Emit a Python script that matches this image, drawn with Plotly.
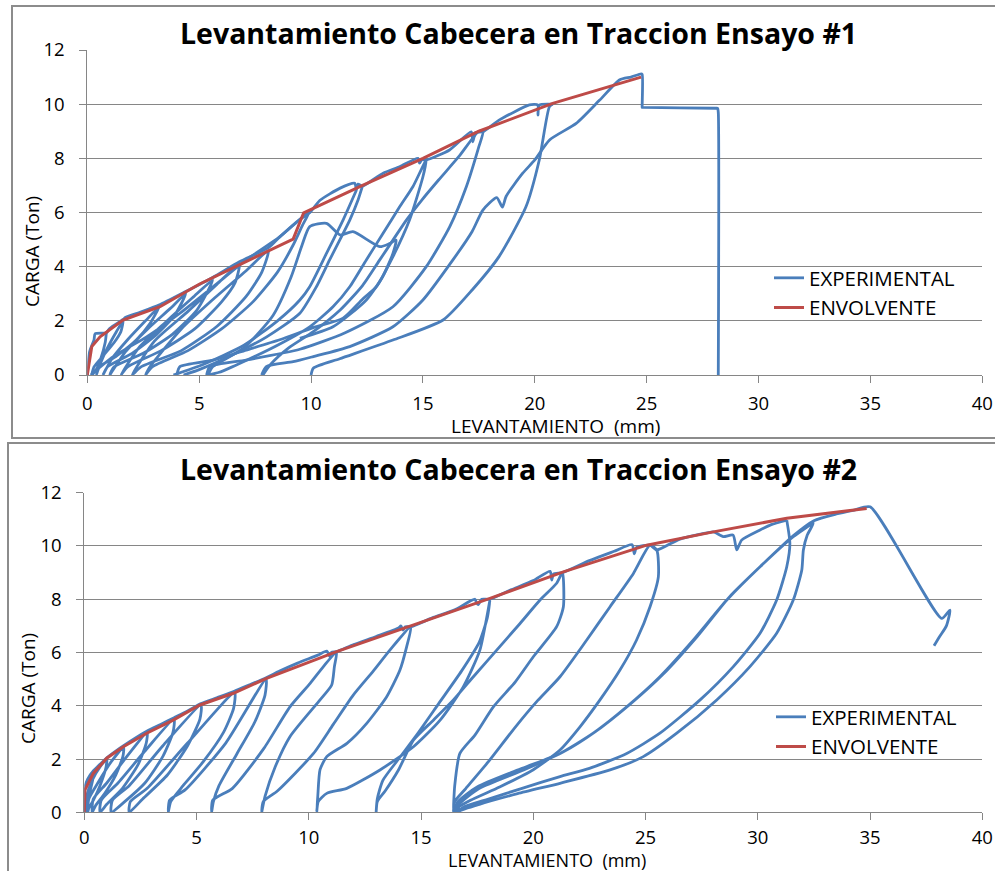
import plotly.graph_objects as go

# ---------------- DATA : Ensayo #1 (top) ----------------
env1_x = [0, 0.2, 0.57, 1.6, 3.25, 5.0, 7.0, 9.2, 9.67, 12.3, 15.0, 17.5, 20.8, 24.75]
env1_y = [0, 1.05, 1.41, 2.03, 2.52, 3.35, 4.15, 5.02, 5.99, 7.0, 8.0, 9.0, 10.03, 11.0]

exp1_x = [
    # path hugging the envelope
    0, 0.1, 0.3, 0.35, 0.85, 1.0, 1.6, 1.7, 2.3, 3.2, 4.4, 5.6, 6.8, 8.1, 8.6, 9.5, 9.94, 10.4, 11.3, 11.95, 12.03, 12.1, 12.3,
    13.22, 13.96, 14.78, 14.85, 14.95, 15.15, 16.19, 17.16, 17.23, 17.35, 17.68, 18.42, 19.76, 20.13, 20.14, 20.2, 20.8, None,
    # small cycles near the origin
    0.85, 0.8, 0.6, 0.4, 0.2, 0.3, 0.7, 1.2, 1.5, 1.6, 1.3, 0.9, 0.6, 0.4, 0.55, 1.3, 2.2, 2.8, 3.2, 2.6, 1.8, 1.1, 0.7,
    0.9, 2.0, 3.1, 3.9, 4.4, 3.7, 2.7, 1.7, 1.0, 1.2, 2.5, 3.8, 4.9, 5.6, 4.7, 3.5, 2.3, 1.5, 1.8, 3.3, 4.8, 6.0, 6.6, 6.8,
    5.8, 4.5, 3.0, 2.0, 2.4, 4.2, 5.8, 7.1, 7.8, 8.1, 7.1, 5.7, 4.2, 2.8, 2.6, 2.9, 4.5, 6.0, 7.4, 8.5, 9.2, 9.6, 9.9,
    8.6, 7.1, 5.63, 4.14, 2.65, 1.16, 0.15, None,
    # cycle with load drop around 11-14 mm
    5.4, 5.6, 7.0, 8.3, 9.1, 9.6, 9.94, 10.69, 11.3, 11.87, 13.07, 13.5, 13.8, 13.66, 13.2, 12.47, 10.98, 9.5, None,
    # branches of the 7 ton peak
    12.03, 11.43, 10.69, 9.94, 9.5, 8.5, 7.0, 5.2, 3.85, None,
    12.3, 12.1, 11.73, 11.28, 10.83, 10.24, 9.5, 8.0, 6.5, 5.0, 4.3, None,
    # 8 ton peak
    4.0, 4.14, 5.63, 7.1, 8.6, 10.1, 11.43, 12.3, 12.92, 13.66, 14.4, 15.0, 15.15, 14.55, 13.96, 13.22, 12.47, 11.73,
    10.98, 9.94, 8.5, 7.0, 5.9, 5.4, None,
    # 9 ton peak
    5.33, 5.48, 7.1, 9.5, 11.5, 13.66, 15.15, 16.2, 16.94, 17.5, 17.68, 17.5, 16.6, 15.7, 14.95, 14.26, 13.66, 13.07,
    12.3, 11.3, 10.1, 9.0, 8.2, 7.85, None,
    # 10 ton peak
    10.0, 10.1, 11.28, 13.66, 15.9, 17.2, 18.4, 19.6, 20.2, 20.65, 20.8, None,
    # last cycle and failure
    7.79, 8.0, 9.2, 10.1, 11.73, 13.66, 15.0, 16.34, 17.2, 17.68, 18.3, 18.55, 18.72, 19.46, 20.0, 20.66, 21.85, 22.9,
    23.8, 24.3, 24.75, 24.8, 24.8, 24.8, 24.85, 28.1, 28.17, 28.2, 28.2,
]
exp1_y = [
    0, 0.85, 1.3, 1.52, 1.56, 1.72, 2.05, 2.12, 2.3, 2.58, 3.08, 3.6, 4.18, 4.7, 5.1, 5.75, 5.99, 6.45, 6.9, 7.08, 6.83, 7.05, 6.98,
    7.45, 7.69, 8.0, 7.82, 7.95, 7.94, 8.31, 8.98, 8.61, 8.95, 8.98, 9.42, 9.97, 9.97, 9.6, 9.97, 10.0, None,
    1.55, 1.2, 0.6, 0.2, 0, 0.3, 0.7, 1.2, 1.6, 2.0, 1.6, 1.0, 0.45, 0, 0.3, 0.7, 1.3, 1.9, 2.5, 2.0, 1.3, 0.6, 0,
    0.3, 0.8, 1.5, 2.2, 3.0, 2.45, 1.7, 0.85, 0, 0.3, 0.8, 1.5, 2.4, 3.5, 2.85, 1.95, 1.0, 0, 0.3, 0.9, 1.7, 2.7, 3.4, 4.1,
    3.35, 2.35, 1.25, 0, 0.3, 0.9, 1.8, 2.9, 3.8, 4.6, 3.85, 2.85, 1.7, 0.3, 0, 0.3, 0.9, 1.7, 2.7, 3.8, 4.8, 5.5, 6.0,
    5.1, 4.25, 3.26, 2.28, 1.41, 0.68, 0, None,
    0, 0.3, 1.0, 2.2, 3.6, 4.8, 5.48, 5.6, 5.17, 5.29, 4.74, 4.85, 4.98, 4.49, 3.63, 2.77, 1.78, 1.35, None,
    6.83, 5.72, 4.49, 3.26, 2.77, 2.0, 1.1, 0.4, 0, None,
    6.98, 6.46, 5.72, 4.98, 4.25, 3.26, 2.28, 1.4, 0.75, 0.2, 0, None,
    0, 0.31, 0.55, 0.92, 1.3, 1.75, 2.1, 2.8, 3.26, 4.37, 5.72, 7.32, 7.94, 6.95, 6.21, 5.23, 4.25, 3.26,
    2.52, 1.78, 1.1, 0.5, 0.1, 0, None,
    0, 0.31, 0.55, 0.95, 1.55, 2.52, 4.0, 5.48, 6.95, 8.43, 8.98, 9.0, 8.06, 7.2, 6.46, 5.72, 4.98, 4.25,
    3.3, 2.4, 1.6, 1.0, 0.4, 0, None,
    0, 0.25, 0.6, 1.29, 2.03, 3.14, 4.37, 6.2, 7.94, 9.9, 10.0, None,
    0, 0.31, 0.49, 0.68, 1.05, 1.78, 2.77, 4.25, 5.3, 6.09, 6.55, 6.2, 6.6, 7.45, 7.94, 8.68, 9.29, 10.15,
    10.9, 11.0, 11.12, 11.1, 10.0, 9.88, 9.88, 9.85, 9.85, 9.7, 0,
]

# ---------------- DATA : Ensayo #2 (bottom) ----------------
env2_x = [0, 0.03, 0.4, 1.0, 1.74, 2.78, 3.96, 5.15, 6.64, 8.12, 11.24, 14.66, 18.07, 21.34, 25.05, 28.02, 31.29, 34.85]
env2_y = [0, 0.84, 1.46, 2.03, 2.46, 2.97, 3.46, 4.03, 4.47, 5.03, 6.03, 7.03, 8.03, 9.03, 10.03, 10.53, 11.04, 11.41]

exp2_x = [
    # path hugging the envelope
    0, 0.02, 0.15, 0.4, 0.7, 1.0, 1.4, 1.75, 2.3, 2.8, 3.4, 4.0, 4.6, 5.2, 5.9, 6.7, 7.4, 8.1, 8.7, 9.5, 10.4, 10.8,
    10.94, 11.0, 11.24, 12.0, 13.0, 14.0, 14.1, 14.2, 14.3, 14.55, 15.5, 16.5, 17.4, 17.48, 17.55, 17.7, 18.05, 19.0,
    20.0, 20.75, 20.82, 20.9, 21.3, 22.5, 23.6, 24.4, 24.5, 24.6, 25.2, 25.5, 26.5, 27.5, 28.02, 28.46, 28.9, 29.06,
    29.28, 30.1, 30.6, 31.29, None,
    # cycles
    0.4, 0.37, 0.2, 0.08, 0.05, 0.1, 0.35, 0.7, 1.0, 0.97, 0.7, 0.4, 0.2, 0.15, 0.2, 0.6, 1.2, 1.75, 1.72, 1.4, 0.9,
    0.5, 0.35, 0.4, 1.0, 1.9, 2.8, 2.76, 2.4, 1.7, 1.0, 0.7, 0.75, 1.5, 2.7, 4.0, 3.95, 3.5, 2.7, 1.8, 1.2, 1.25, 2.0,
    3.5, 5.2, 5.15, 4.6, 3.7, 2.6, 2.0, 2.05, 2.8, 4.6, 6.7, 6.65, 6.2, 5.3, 4.4, 3.85, 3.74, 3.8, 4.5, 6.3, 8.1,
    8.05, 7.6, 6.8, 6.0, 5.75, 5.67, 5.72, 6.6, 8.0, 9.16, 10.06, 10.65, 11.24, 11.14, 11.02, 10.5, 9.16, 8.5, 8.05,
    7.9, 7.97, 8.6, 10.2, 11.09, 11.98, 12.87, 13.62, 14.55, 14.36, 14.06, 13.47, 12.58, 11.7, 10.8, 10.5, 10.4, 10.35,
    10.42, 10.8, 11.69, 13.17, 14.66, 15.85, 16.88, 17.62, 18.07, 17.95, 17.6, 16.8, 15.8, 14.8, 14.0, 13.3, 13.05,
    13.0, 13.05, 13.4, 14.0, 14.66, 15.55, 16.44, 17.33, 18.37, 19.41, 20.3, 21.04, 21.3, 21.34, 21.04, 20.0, 19.2,
    18.22, 17.4, 16.73, 16.5, 16.44, 16.5, 17.0, 18.0, 19.2, 20.2, 21.19, 22.38, 23.42, 24.46, 25.2, 25.5, 25.57,
    25.2, 24.6, 23.86, 22.97, 22.08, 21.19, 20.0, 18.5, 17.2, 16.6, 16.5, None,
    # large cycles and failure
    31.29, 31.43, 31.29, 30.84, 30.1, 28.91, 27.43, 25.64, 24.16, 22.5, 21.19, 19.5, 18.0, 16.9, 16.55, 16.6, 17.5,
    19.5, 21.19, 22.67, 24.16, 25.64, 27.13, 28.62, 30.1, 31.58, 32.0, 32.47, 32.2, 32.03, 31.96, 31.58, 30.84, 29.65,
    28.17, 26.39, 24.9, 23.42, 21.19, 19.3, 17.6, 16.7, 16.65, 16.7, 17.6, 19.6, 21.3, 22.8, 24.3, 25.8, 27.3, 28.75,
    30.2, 31.6, 32.5, 33.5, 34.3, 35.0, 38.19, 38.56, 38.4, 38.1, 37.85,
]
exp2_y = [
    0, 0.9, 1.25, 1.55, 1.8, 2.05, 2.3, 2.5, 2.8, 3.05, 3.3, 3.55, 3.8, 4.08, 4.3, 4.55, 4.8, 5.05, 5.3, 5.6, 5.9, 6.05,
    5.84, 6.0, 6.03, 6.3, 6.6, 6.92, 7.0, 6.84, 6.97, 6.97, 7.3, 7.6, 8.0, 7.85, 7.8, 8.0, 8.0, 8.35,
    8.7, 9.05, 8.72, 8.95, 9.0, 9.45, 9.8, 10.05, 9.7, 9.95, 10.03, 9.85, 10.25, 10.45, 10.53, 10.35, 10.41, 9.85,
    10.22, 10.6, 10.8, 10.97, None,
    1.5, 1.2, 0.6, 0.2, 0, 0.6, 1.2, 1.7, 2.0, 1.7, 1.0, 0.45, 0.15, 0, 0.5, 1.1, 1.9, 2.45, 2.1, 1.4, 0.7,
    0.25, 0, 0.5, 1.1, 2.1, 3.0, 2.6, 1.8, 0.9, 0.3, 0, 0.45, 1.1, 2.3, 3.5, 3.0, 2.1, 1.1, 0.4, 0, 0.45, 1.0,
    2.5, 4.03, 3.5, 2.5, 1.4, 0.5, 0, 0.4, 0.9, 2.6, 4.5, 3.9, 3.0, 1.9, 1.0, 0.4, 0, 0.45, 0.85, 2.6, 5.0,
    4.4, 3.4, 2.2, 1.0, 0.4, 0, 0.45, 0.9, 2.4, 3.96, 4.84, 5.47, 6.03, 5.47, 4.78, 4.22, 2.84, 1.7, 0.6,
    0, 0.4, 0.8, 2.2, 3.3, 4.4, 5.3, 6.1, 6.97, 6.22, 5.34, 4.34, 3.34, 2.59, 2.09, 1.6, 0.6, 0,
    0.4, 0.71, 0.9, 1.59, 2.46, 3.46, 4.71, 6.09, 7.97, 7.3, 6.4, 5.3, 4.1, 2.9, 2.0, 1.2, 0.5,
    0, 0.4, 0.8, 1.6, 2.71, 3.46, 4.22, 5.09, 6.09, 7.09, 7.97, 8.6, 9.0, 7.72, 6.97, 5.84, 4.9,
    3.96, 2.9, 2.21, 1.0, 0, 0.4, 0.9, 1.9, 3.2, 4.2, 5.09, 6.47, 7.72, 8.97, 10.03, 9.85, 8.84,
    7.72, 6.47, 5.34, 4.22, 3.21, 2.34, 1.6, 0.95, 0.45, 0.15, 0, None,
    10.97, 10.1, 9.22, 7.97, 6.72, 5.47, 4.22, 2.97, 2.21, 1.65, 1.34, 0.9, 0.5, 0.2, 0, 0.35, 0.95,
    1.65, 2.21, 2.97, 3.96, 5.09, 6.47, 7.97, 9.22, 10.35, 10.6, 10.85, 10.4, 9.85, 9.1, 7.97, 6.72, 5.47,
    4.22, 2.97, 2.09, 1.59, 1.09, 0.7, 0.3, 0.05, 0, 0.3, 0.9, 1.6, 2.25, 3.05, 4.05, 5.2, 6.6, 8.1,
    9.3, 10.4, 10.95, 11.2, 11.35, 11.47, 7.28, 7.59, 7.0, 6.6, 6.25,
]

x_ticks = [0, 5, 10, 15, 20, 25, 30, 35, 40]
y_ticks = [0, 2, 4, 6, 8, 10, 12]
titles = ["Levantamiento Cabecera en Traccion Ensayo #1", "Levantamiento Cabecera en Traccion Ensayo #2"]
x_title = "LEVANTAMIENTO\u00a0\u00a0(mm)"
y_title = "CARGA (Ton)"
series_names = ["EXPERIMENTAL", "ENVOLVENTE"]

# ---------------- FIGURE ----------------
W, H = 995, 871
BLUE = "#4A7EBB"
RED = "#BE4B48"
GRID = "#868686"
FONT = "Open Sans"


def px(v):
    return v / W


def py(v):
    return 1 - v / H


fig = go.Figure()
exp_line = dict(color=BLUE, width=2.8, shape="spline", smoothing=0.6)
fig.add_trace(go.Scatter(x=exp1_x, y=exp1_y, mode="lines", name=series_names[0], connectgaps=False,
                         line=exp_line, xaxis="x", yaxis="y", legend="legend"))
fig.add_trace(go.Scatter(x=env1_x, y=env1_y, mode="lines", name=series_names[1],
                         line=dict(color=RED, width=3), xaxis="x", yaxis="y", legend="legend"))
fig.add_trace(go.Scatter(x=exp2_x, y=exp2_y, mode="lines", name=series_names[0], connectgaps=False,
                         line=exp_line, xaxis="x2", yaxis="y2", legend="legend2"))
fig.add_trace(go.Scatter(x=env2_x, y=env2_y, mode="lines", name=series_names[1],
                         line=dict(color=RED, width=3), xaxis="x2", yaxis="y2", legend="legend2"))

xcommon = dict(range=[0, 40], tickvals=x_ticks, showgrid=False, showline=True, linecolor=GRID, linewidth=1,
               ticks="outside", ticklen=7, tickcolor=GRID, zeroline=False, automargin=False,
               tickfont=dict(family=FONT, size=18.5, color="#000"), fixedrange=True)
ycommon = dict(range=[0, 12], tickvals=y_ticks, showgrid=True, gridcolor=GRID, gridwidth=1, showline=True,
               linecolor=GRID, linewidth=1, ticks="outside", ticklen=7, tickcolor=GRID, zeroline=False,
               ticklabelstandoff=11, automargin=False,
               tickfont=dict(family=FONT, size=18.5, color="#000"), fixedrange=True)

fig.update_layout(
    width=W, height=H, margin=dict(l=0, r=0, t=0, b=0, pad=0, autoexpand=False),
    paper_bgcolor="white", plot_bgcolor="white",
    xaxis=dict(domain=[px(87.3), px(982.3)], anchor="y", ticklabelstandoff=5, **xcommon),
    yaxis=dict(domain=[py(375), py(50)], anchor="x", **ycommon),
    xaxis2=dict(domain=[px(84.3), px(982.3)], anchor="y2", ticklabelstandoff=1, **xcommon),
    yaxis2=dict(domain=[py(812.3), py(492.7)], anchor="x2", **ycommon),
    legend=dict(x=px(769), y=py(293), xanchor="left", yanchor="middle", bgcolor="rgba(0,0,0,0)",
                font=dict(family=FONT, size=20.5, color="#000"), itemwidth=30),
    legend2=dict(x=px(771), y=py(732), xanchor="left", yanchor="middle", bgcolor="rgba(0,0,0,0)",
                 font=dict(family=FONT, size=20.5, color="#000"), itemwidth=30),
    showlegend=True,
)

# chart frames
fig.add_shape(type="rect", xref="paper", yref="paper", x0=px(12), x1=px(1005), y0=py(438), y1=py(6),
              line=dict(color="#8C8C8C", width=2), layer="below")
fig.add_shape(type="rect", xref="paper", yref="paper", x0=px(8), x1=px(1005), y0=py(880), y1=py(443),
              line=dict(color="#8C8C8C", width=2), layer="below")

# titles and axis titles
for txt, ty in zip(titles, [33, 469]):
    fig.add_annotation(text="<b>" + txt + "</b>", xref="paper", yref="paper", x=px(518), y=py(ty),
                       showarrow=False, xanchor="center", yanchor="middle",
                       font=dict(family=FONT, size=28.5, color="#000"))
for tx, ty, fs in [(555, 426, 19), (547, 860, 18)]:
    fig.add_annotation(text=x_title, xref="paper", yref="paper", x=px(tx), y=py(ty), showarrow=False,
                       xanchor="center", yanchor="middle", borderpad=0,
                       font=dict(family=FONT, size=fs, color="#000"))
for tx, ty in [(32, 252), (28, 689)]:
    fig.add_annotation(text=y_title, xref="paper", yref="paper", x=px(tx), y=py(ty), showarrow=False,
                       textangle=-90, xanchor="center", yanchor="middle",
                       font=dict(family=FONT, size=19, color="#000"))

# the page body has a default 8px margin; remove it so the figure fills the window exactly
fig.write_html("out.html", config={"displayModeBar": False},
               post_script="document.body.style.margin='0px';")
